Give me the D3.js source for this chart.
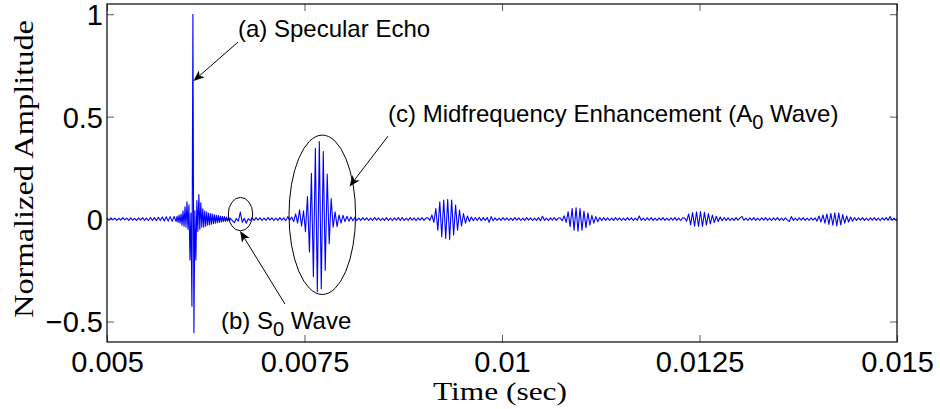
<!DOCTYPE html>
<html>
<head>
<meta charset="utf-8">
<script src="https://cdn.jsdelivr.net/npm/d3@7"></script>
<style>
  body { margin: 0; background: #fff; }
  svg { display: block; }
</style>
</head>
<body>
<svg id="chart" width="940" height="409"></svg>
<script>
// ---- Received signal: normalized amplitude vs time (s) ----
const traceStart = 0.005;          // s, time of first sample
const coarseStep = 2.5e-5;         // s between samples in most segments
const fineStep = 1.25e-5;          // s between samples around the specular echo

const leadIn = [0.004,-0.005,0.006,-0.004,0.005,-0.006,0.004,-0.005,0.007,-0.004,
  0.005,-0.006,0.006,-0.005,0.004,-0.007,0.006,-0.005,0.007,-0.006,
  0.005,-0.007,0.008,-0.006,0.007,-0.008,0.009,-0.007,0.010,-0.009,
  0.011,-0.010,0.012,-0.011,0.013];
const specularEcho = [-0.012,0.014,-0.016,0.02,-0.02,0.025,-0.03,0.04,-0.035,0.06,
  -0.04,0.085,-0.05,0.07,-0.2,0.03,-0.425,1.0,-0.555,0.04,
  -0.2,0.09,-0.06,0.12,-0.05,0.08,-0.04,0.05,-0.04,0.04,
  -0.035,0.035,-0.03,0.03,-0.028,0.027,-0.025,0.024,-0.022,0.021,
  -0.02,0.019,-0.018,0.017,-0.016,0.015,-0.014,0.013,-0.012,0.012,
  -0.011,0.01,-0.01,0.009,-0.009];
const s0Region = [0.004,-0.008,-0.017,0.003,-0.01,0.034,-0.016,0.004,-0.02,0.002,
  -0.008,0.006,-0.006,0.007,-0.005,0.006,-0.007,0.005,-0.006,0.008,
  -0.005,0.006,-0.007,0.005,-0.006,0.007,-0.005,0.006,-0.008,0.012,
  -0.006];
const a0Burst = [0.01,-0.012,0.025,-0.02,0.045,-0.035,0.04,-0.062,0.11,-0.16,
  0.223,-0.28,0.345,-0.355,0.378,-0.34,0.33,-0.25,0.22,-0.12,
  0.10,-0.04,0.035,-0.037,0.02,-0.02,0.018,-0.012,0.014,-0.01,
  0.01,-0.008,0.008,-0.006];
const quiet2 = [0.005,-0.006,0.007,-0.005,0.006,-0.007,0.005,-0.006,0.008,-0.005,
  0.006,-0.007,0.005,-0.006,0.007,-0.006,0.005,-0.007,0.006,-0.005,
  0.007,-0.006,0.008,-0.007,0.005,-0.006,0.007,-0.005,0.006,-0.008,
  0.006,-0.005,0.007,-0.006,0.005];
const burst2 = [0.006,-0.006,0.02,-0.016,0.052,-0.054,0.085,-0.086,0.093,-0.094,
  0.096,-0.10,0.093,-0.078,0.068,-0.054,0.044,-0.034,0.027,-0.02,
  0.015,-0.012,0.01,-0.008];
const quiet3 = [0.008,-0.007,0.009,-0.008,0.007,-0.006,0.008,-0.016,0.012,-0.008,
  0.006,-0.007,0.005,-0.006,0.007,-0.005,0.006,-0.007,0.005,-0.006,
  0.007,-0.005,0.006,-0.007,0.005,-0.006,0.007,-0.005,0.006,-0.007,
  0.005,-0.006,0.007,-0.008,0.014,-0.006,0.005,-0.007,0.006,-0.005,
  0.007,-0.006,0.005];
const burst3 = [0.005,-0.008,0.016,-0.016,0.036,-0.037,0.052,-0.054,0.055,-0.059,
  0.052,-0.054,0.039,-0.042,0.03,-0.03,0.018,-0.02,0.012,-0.013,
  0.008,-0.008];
const quiet4 = [0.007,-0.006,0.006,-0.007,0.005,-0.006,0.007,-0.005,0.006,-0.007,
  0.005,-0.006,0.007,-0.005,0.006,-0.007,0.005,-0.006,0.015,-0.006,
  0.005,-0.007,0.006,-0.005,0.007,-0.006,0.005,-0.007,0.006,-0.005,
  0.007,-0.006,0.005,-0.007,0.006,-0.005,0.007,-0.006,0.005,-0.007,
  0.006];
const burst4 = [0.005,-0.01,0.025,-0.028,0.032,-0.034,0.035,-0.036,0.037,-0.036,
  0.033,-0.03,0.027,-0.024,0.02,-0.017,0.014,-0.012,0.01,-0.008,
  0.008,-0.006];
const quiet5 = [0.006,-0.007,0.005,-0.006,0.007,-0.005,0.006,0.013,-0.006,0.005,
  -0.007,0.006,-0.005,0.007,-0.006,0.005,-0.007,0.006,-0.005,0.007,
  -0.006,0.005,-0.007,0.006,-0.005,0.007,-0.006,0.005,-0.007,0.006,
  -0.005,-0.012,0.012,-0.006,0.005,-0.007,0.006,-0.005,0.007,-0.006,
  0.005,-0.007,0.006,-0.005];
const burst5 = [0.006,-0.01,0.015,-0.014,0.02,-0.02,0.025,-0.026,0.028,-0.03,
  0.031,-0.033,0.03,-0.028,0.022,-0.02,0.015,-0.014,0.01,-0.01,
  0.008,-0.007];
const tailOut = [0.006,-0.005,0.007,-0.006,0.005,-0.007,0.006,-0.005,0.007,-0.006,
  0.005,-0.007,0.006,-0.005,0.007,-0.006,0.012,-0.006,0.005,-0.006,
  0.005];

// consecutive pieces of the trace, in time order
const segments = [
  { step: coarseStep, values: leadIn },
  { step: fineStep,   values: specularEcho },
  { step: coarseStep, values: s0Region },
  { step: coarseStep, values: a0Burst },
  { step: coarseStep, values: quiet2 },
  { step: coarseStep, values: burst2 },
  { step: coarseStep, values: quiet3 },
  { step: coarseStep, values: burst3 },
  { step: coarseStep, values: quiet4 },
  { step: coarseStep, values: burst4 },
  { step: coarseStep, values: quiet5 },
  { step: coarseStep, values: burst5 },
  { step: coarseStep, values: tailOut }
];

// ---- Axes ----
const xDomain = [0.005, 0.015];
const yDomain = [-0.6, 1.05];
const xTicks = [0.005, 0.0075, 0.01, 0.0125, 0.015];
const xTickLabels = ["0.005", "0.0075", "0.01", "0.0125", "0.015"];
const yTicks = [-0.5, 0, 0.5, 1];
const yTickLabels = ["\u22120.5", "0", "0.5", "1"];
const xLabel = "Time (sec)";
const yLabel = "Normalized Amplitude";

// ---- Annotations (data coordinates) ----
const ellipses = [
  { cx: 0.0066899, cy: 0.0244, rx: 1.544e-4, ry: 0.0815 },   // S0 wave
  { cx: 0.0077253, cy: 0.021,  rx: 4.215e-4, ry: 0.389 }     // A0 wave
];
const arrows = [
  { from: [0.0066582, 0.864],  to: [0.0060949, 0.674] },
  { from: [0.0072532, -0.415], to: [0.0066848, -0.0586] },
  { from: [0.0085570, 0.405],  to: [0.0080696, 0.159] }
];
const notes = [
  { t: 0.0066582, a: 0.889,  parts: [["(a) Specular Echo", 0]] },
  { t: 0.0064430, a: -0.537, parts: [["(b) S", 0], ["0", 1], [" Wave", 0]] },
  { t: 0.0085570, a: 0.4735, parts: [["(c) Midfrequency Enhancement (A", 0], ["0", 1], [" Wave)", 0]] }
];

// ---- Layout ----
const svg = d3.select("#chart");
const plot = { left: 107, top: 4, right: 897, bottom: 342 };
const sansFont = "'Liberation Sans', Arial, Helvetica, sans-serif";
const serifFont = "'Liberation Serif', 'Times New Roman', serif";

const x = d3.scaleLinear().domain(xDomain).range([plot.left, plot.right]);
const y = d3.scaleLinear().domain(yDomain).range([plot.bottom, plot.top]);

svg.append("rect").attr("width", 940).attr("height", 409).attr("fill", "#fff");

// flatten segments into (time, amplitude) samples
const samples = [];
let t = traceStart;
segments.forEach(seg => {
  seg.values.forEach(v => { samples.push([t, v]); t += seg.step; });
});

svg.append("clipPath").attr("id", "plotClip")
  .append("rect")
  .attr("x", plot.left).attr("y", plot.top)
  .attr("width", plot.right - plot.left).attr("height", plot.bottom - plot.top);

const line = d3.line().x(d => x(d[0])).y(d => y(d[1]));
svg.append("path")
  .datum(samples)
  .attr("clip-path", "url(#plotClip)")
  .attr("d", line)
  .attr("fill", "none")
  .attr("stroke", "#0000ff")
  .attr("stroke-width", 1.1)
  .attr("stroke-linejoin", "round");

// axes with inward ticks, mirrored on top and right
const tickLen = 7;
function styleAxis(g) {
  g.select(".domain").remove();
  g.selectAll(".tick line").attr("stroke", "#333").attr("stroke-width", 0.8);
  g.selectAll(".tick text")
    .attr("fill", "#000")
    .attr("font-family", sansFont)
    .attr("font-size", 29);
}
svg.append("g")
  .attr("transform", `translate(0,${plot.bottom})`)
  .call(d3.axisBottom(x).tickValues(xTicks).tickFormat((d, i) => xTickLabels[i])
    .tickSizeInner(-tickLen).tickSizeOuter(0).tickPadding(9))
  .call(styleAxis);
svg.append("g")
  .attr("transform", `translate(0,${plot.top})`)
  .call(d3.axisTop(x).tickValues(xTicks).tickFormat("")
    .tickSizeInner(-tickLen).tickSizeOuter(0))
  .call(styleAxis);
svg.append("g")
  .attr("transform", `translate(${plot.left},0)`)
  .call(d3.axisLeft(y).tickValues(yTicks).tickFormat((d, i) => yTickLabels[i])
    .tickSizeInner(-tickLen).tickSizeOuter(0).tickPadding(4))
  .call(styleAxis)
  .call(g => g.selectAll(".tick text").attr("dy", "0.36em"));
svg.append("g")
  .attr("transform", `translate(${plot.right},0)`)
  .call(d3.axisRight(y).tickValues(yTicks).tickFormat("")
    .tickSizeInner(-tickLen).tickSizeOuter(0))
  .call(styleAxis);

// frame
svg.append("rect")
  .attr("x", plot.left).attr("y", plot.top)
  .attr("width", plot.right - plot.left).attr("height", plot.bottom - plot.top)
  .attr("fill", "none").attr("stroke", "#000").attr("stroke-width", 1.2);

// axis titles
svg.append("text")
  .attr("x", (plot.left + plot.right) / 2 - 2).attr("y", 400)
  .attr("text-anchor", "middle")
  .attr("font-family", serifFont).attr("font-size", 25)
  .attr("textLength", 134).attr("lengthAdjust", "spacingAndGlyphs")
  .text(xLabel);
svg.append("text")
  .attr("transform", `translate(33,${(plot.top + plot.bottom) / 2 - 4}) rotate(-90)`)
  .attr("text-anchor", "middle")
  .attr("font-family", serifFont).attr("font-size", 28)
  .attr("textLength", 298).attr("lengthAdjust", "spacingAndGlyphs")
  .text(yLabel);

// ellipses
svg.selectAll("ellipse.mark")
  .data(ellipses).join("ellipse")
  .attr("class", "mark")
  .attr("cx", d => x(d.cx)).attr("cy", d => y(d.cy))
  .attr("rx", d => x(d.cx + d.rx) - x(d.cx))
  .attr("ry", d => y(d.cy - d.ry) - y(d.cy))
  .attr("fill", "none").attr("stroke", "#000").attr("stroke-width", 1);

// arrows with notched heads
const headLen = 11, headHalf = 4.5, notch = 3;
arrows.forEach(a => {
  const x0 = x(a.from[0]), y0 = y(a.from[1]);
  const x1 = x(a.to[0]), y1 = y(a.to[1]);
  const len = Math.hypot(x1 - x0, y1 - y0);
  const ux = (x1 - x0) / len, uy = (y1 - y0) / len;
  const px = -uy, py = ux;
  svg.append("line")
    .attr("x1", x0).attr("y1", y0)
    .attr("x2", x1 - ux * (headLen - notch)).attr("y2", y1 - uy * (headLen - notch))
    .attr("stroke", "#000").attr("stroke-width", 1);
  const bx = x1 - ux * headLen, by = y1 - uy * headLen;
  const nx = x1 - ux * (headLen - notch), ny = y1 - uy * (headLen - notch);
  svg.append("path")
    .attr("d", `M${x1},${y1}L${bx + px * headHalf},${by + py * headHalf}L${nx},${ny}L${bx - px * headHalf},${by - py * headHalf}Z`)
    .attr("fill", "#000");
});

// annotation labels
notes.forEach(n => {
  const txt = svg.append("text")
    .attr("x", x(n.t)).attr("y", y(n.a))
    .attr("font-family", sansFont).attr("font-size", 24).attr("fill", "#000");
  let lowered = 0;
  n.parts.forEach(([s, sub]) => {
    const shift = sub ? 7 : 0;
    txt.append("tspan")
      .attr("dy", shift - lowered)
      .attr("font-size", sub ? 20 : 24)
      .text(s);
    lowered = shift;
  });
});
</script>
</body>
</html>
